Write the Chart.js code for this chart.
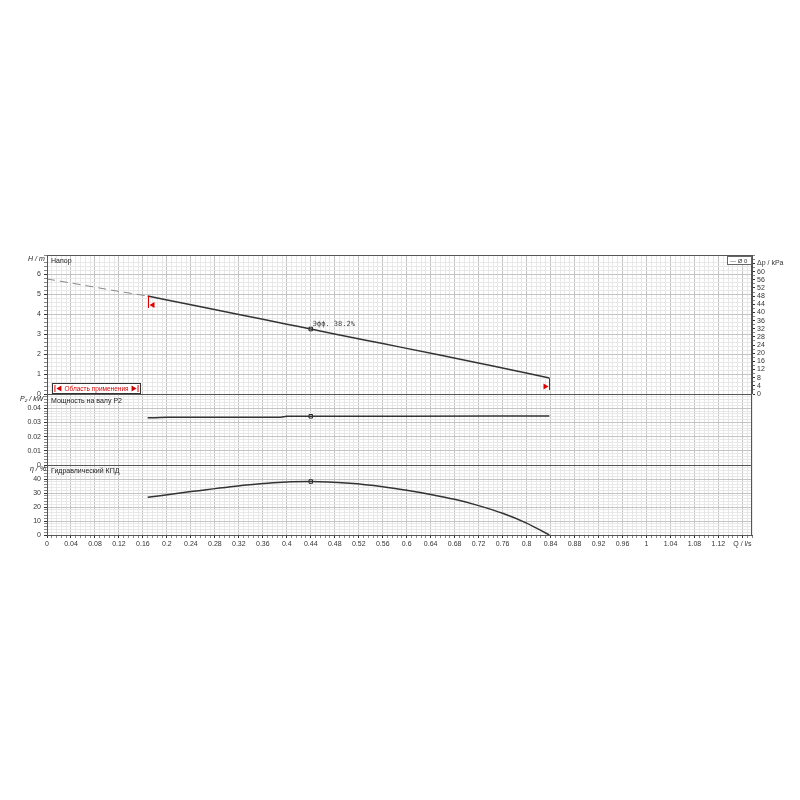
<!DOCTYPE html>
<html><head><meta charset="utf-8">
<script src="https://cdn.jsdelivr.net/npm/chart.js@4.4.1/dist/chart.umd.min.js"></script>
<style>
html,body{margin:0;padding:0;background:#fff;}
#wrap{position:relative;width:800px;height:800px;}
canvas{position:absolute;left:0;top:0;}
</style></head><body>
<div id="wrap">
<canvas id="c1" width="800" height="800"></canvas>
<canvas id="c2" width="800" height="800"></canvas>
<canvas id="c3" width="800" height="800"></canvas>
</div>
<script>
// ---- data ----
const qDashed = [0, 0.04, 0.08, 0.12, 0.168];
const hDashed = [5.75, 5.55, 5.34, 5.13, 4.9];
const qWork = [0.168, 0.24, 0.32, 0.40, 0.44, 0.488, 0.56, 0.655, 0.74, 0.838];
const hWork = [4.9, 4.46, 3.98, 3.49, 3.25, 2.95, 2.52, 1.95, 1.42, 0.8];
const qPower = [0.168, 0.18, 0.2, 0.3, 0.39, 0.4, 0.6, 0.838];
const p2 = [0.0332, 0.0333, 0.0336, 0.0337, 0.0337, 0.0343, 0.0344, 0.0345];
const qEta = [0.168, 0.24, 0.322, 0.377, 0.44, 0.505, 0.56, 0.6, 0.64, 0.68, 0.72, 0.76, 0.8, 0.838];
const eta = [26.9, 31.0, 35.2, 37.4, 38.2, 36.9, 34.5, 32.0, 29.0, 25.5, 21.0, 15.5, 8.5, 0];
const opQ = [0.44];
const opH = [3.25];
const opP = [0.0343];
const opEta = [38.2];
const rangeQ = [0.168, 0.838];
const opLabel = 'Эфф. 38.2%';
const xMax = 1.176, hMax = 6.95, pMax = 0.05, etaMax = 50;
const kPaPerM = 9.81;

Chart.defaults.font.family = 'Liberation Sans, Arial, sans-serif';
Chart.defaults.font.size = 7;
Chart.defaults.color = '#333';

const MAJ = '#c4c4c4', MIN = '#e8e8e8', AX = '#555';
function isMul(v, s){ return Math.abs(v/s - Math.round(v/s)) < 1e-6; }
function pts(xs, ys){ return xs.map((x,i)=>({x:x, y:ys[i]})); }

function xScale(showLabels, h){
  return {
    type:'linear', min:0, max:xMax,
    ticks:{stepSize:0.008, autoSkip:false, maxRotation:0, display:showLabels, padding:2,
      callback:(v)=>{ if (isMul(v,0.04)) { const r=Math.round(v/0.04); if (r===29) return 'Q / l/s'; return Number(v.toFixed(2)).toString(); } return ''; }},
    grid:{color:(c)=> (c.tick && !isMul(c.tick.value,0.04)) ? MIN : MAJ, drawTicks:showLabels, tickLength:3,
      tickColor:(c)=> (c.tick && !isMul(c.tick.value,0.04)) ? '#888' : '#333'},
    border:{display:true, color:AX},
    afterFit:(s)=>{ s.height = h; }
  };
}
function yScale(max, step, major, dec){
  return {
    type:'linear', min:0, max:max, position:'left',
    ticks:{stepSize:step, autoSkip:false, padding:3,
      callback:(v)=>{ if (Math.abs(v-max)<1e-9) return ''; if (isMul(v,major)) return Number(v.toFixed(dec)).toString(); return ''; }},
    grid:{color:(c)=> (c.tick && !isMul(c.tick.value,major)) ? MIN : MAJ, tickLength:3,
      tickColor:(c)=> (c.tick && !isMul(c.tick.value,major)) ? '#888' : '#333'},
    border:{display:true, color:AX},
    afterFit:(s)=>{ s.width = 47; }
  };
}
const frame = { id:'frame', afterDraw(chart){ const a=chart.chartArea, c=chart.ctx; c.save(); c.strokeStyle=AX; c.lineWidth=1; c.strokeRect(Math.round(a.left)+0.5, Math.round(a.top)+0.5, Math.round(a.right-a.left)-1, Math.round(a.bottom-a.top)); c.restore(); } };

const lineDs = (data, extra)=>Object.assign({data:data, borderColor:'#333', borderWidth:1.5, pointRadius:0, fill:false, tension:0.3, cubicInterpolationMode:'monotone'}, extra||{});
const opDs = (data)=>({data:data, showLine:false, pointStyle:'rect', pointRadius:2.5, pointBackgroundColor:'#fff', pointBorderColor:'#222', pointBorderWidth:1});

const baseOpts = (pad, scales)=>({responsive:false, animation:false, devicePixelRatio:1,
  layout:{padding:pad}, plugins:{legend:{display:false}, tooltip:{enabled:false}}, scales:scales});

// data-anchored annotations for top panel
const annot = { id:'annot', afterDatasetsDraw(chart){
  const x=chart.scales.x, y=chart.scales.y, c=chart.ctx;
  c.save();
  c.strokeStyle='#e00000'; c.fillStyle='#e00000'; c.lineWidth=1;
  let px=Math.round(x.getPixelForValue(rangeQ[0]))+0.5;
  c.beginPath(); c.moveTo(px, y.getPixelForValue(4.9)); c.lineTo(px, y.getPixelForValue(4.3)); c.stroke();
  let ty=y.getPixelForValue(4.45);
  c.beginPath(); c.moveTo(px+1,ty); c.lineTo(px+6,ty-3); c.lineTo(px+6,ty+3); c.closePath(); c.fill();
  px=Math.round(x.getPixelForValue(rangeQ[1]))+0.5;
  c.beginPath(); c.moveTo(px, y.getPixelForValue(0.8)); c.lineTo(px, y.getPixelForValue(0.2)); c.stroke();
  ty=y.getPixelForValue(0.38);
  c.beginPath(); c.moveTo(px-1,ty); c.lineTo(px-6,ty-3); c.lineTo(px-6,ty+3); c.closePath(); c.fill();
  c.fillStyle='#444'; c.font='7px "DejaVu Sans Mono", monospace'; c.textBaseline='alphabetic'; c.textAlign='left';
  c.fillText(opLabel, x.getPixelForValue(opQ[0])+2, y.getPixelForValue(opH[0])-3);
  c.restore();
}};

// static texts, drawn on the topmost canvas
const texts = { id:'texts', afterDraw(chart){
  const c=chart.ctx;
  c.save();
  c.textAlign='left'; c.textBaseline='middle';
  c.fillStyle='#222'; c.font='7px "Liberation Sans", Arial, sans-serif';
  c.fillText('Напор', 51, 261);
  c.fillText('Мощность на валу P2', 51, 401);
  c.fillText('Гидравлический КПД', 51, 471);
  c.font='italic 7px "Liberation Sans", Arial, sans-serif';
  c.fillText('H / m', 28, 259);
  c.fillText('P\u2082 / kW', 20, 399);
  c.fillText('\u03b7 / %', 30, 469);
  // legend box
  c.fillStyle='#fff'; c.fillRect(727,256,25,9); c.strokeStyle='#666'; c.lineWidth=1; c.strokeRect(727.5,256.5,24,8);
  c.fillStyle='#333'; c.font='6px "Liberation Sans", Arial, sans-serif'; c.fillText('\u2014 \u00d8 0', 730, 261);
  // application range box
  c.fillStyle='#fff'; c.fillRect(52,383,89,11); c.strokeStyle='#333'; c.strokeRect(52.5,383.5,88,10);
  c.fillStyle='#d00000'; c.strokeStyle='#d00000';
  c.font='6.5px "Liberation Sans", Arial, sans-serif'; c.textAlign='center';
  const label='Область применения';
  const w=c.measureText(label).width, cx=96.5;
  c.fillText(label, cx, 389);
  const l=cx-w/2-3, r=cx+w/2+3;
  c.beginPath(); c.moveTo(l-6.5,385); c.lineTo(l-6.5,392); c.stroke();
  c.beginPath(); c.moveTo(l-5,388.5); c.lineTo(l,385.5); c.lineTo(l,391.5); c.closePath(); c.fill();
  c.beginPath(); c.moveTo(r+6.5,385); c.lineTo(r+6.5,392); c.stroke();
  c.beginPath(); c.moveTo(r+5,388.5); c.lineTo(r,385.5); c.lineTo(r,391.5); c.closePath(); c.fill();
  c.restore();
}};

// ---- top: head ----
const kpa = {type:'linear', position:'right', min:0, max:hMax*kPaPerM,
  ticks:{stepSize:2, autoSkip:false, padding:2, callback:(v)=>{ if (v===64) return '\u0394p / kPa'; if (isMul(v,4)) return String(v); return ''; }},
  grid:{drawOnChartArea:false, tickLength:3, tickColor:(c)=> (c.tick && !isMul(c.tick.value,4)) ? '#888' : '#333'},
  border:{display:true, color:AX}, afterFit:(s)=>{ s.width = 48; }};
new Chart(document.getElementById('c1'), {type:'line',
  data:{datasets:[
    lineDs(pts(qDashed,hDashed), {borderColor:'#888', borderWidth:1, borderDash:[8,5], tension:0}),
    lineDs(pts(qWork,hWork)),
    opDs(pts(opQ,opH))
  ]},
  options:baseOpts({top:255, bottom:406, left:0, right:0}, {x:xScale(false,0), y:yScale(hMax,0.2,1,0), kpa:kpa}),
  plugins:[frame, annot]});

// ---- middle: power ----
new Chart(document.getElementById('c2'), {type:'line',
  data:{datasets:[ lineDs(pts(qPower,p2), {tension:0}), opDs(pts(opQ,opP)) ]},
  options:baseOpts({top:394, bottom:335, left:0, right:48}, {x:xScale(false,0), y:yScale(pMax,0.002,0.01,2)}),
  plugins:[frame]});

// ---- bottom: efficiency ----
new Chart(document.getElementById('c3'), {type:'line',
  data:{datasets:[ lineDs(pts(qEta,eta)), opDs(pts(opQ,opEta)) ]},
  options:baseOpts({top:465, bottom:245, left:0, right:48}, {x:xScale(true,20), y:yScale(etaMax,2,10,0)}),
  plugins:[frame, texts]});
</script>
</body></html>
